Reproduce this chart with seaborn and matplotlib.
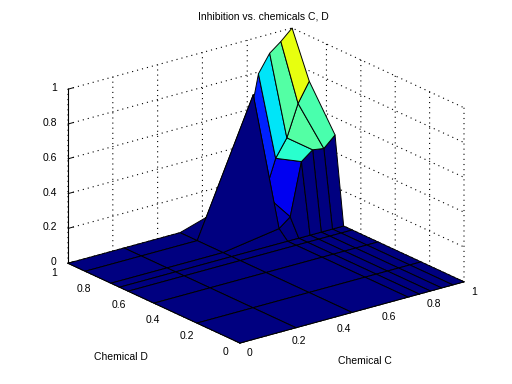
import numpy as np
import matplotlib
matplotlib.use("Agg")
import matplotlib.pyplot as plt
from matplotlib.transforms import Affine2D
import seaborn as sns
from mpl_toolkits.mplot3d import proj3d

chem_c = [0, 0.25, 0.5, 0.75, 0.8, 0.85, 0.9, 0.95, 1.0]
chem_d = [0, 0.25, 0.5, 0.65, 0.7, 0.75, 0.9, 1.0]
row_d000 = [0, 0, 0, 0, 0, 0, 0, 0, 0]
row_d025 = [0, 0, 0, 0, 0, 0, 0, 0, 0]
row_d050 = [0, 0, 0, 0, 0, 0, 0, 0, 0]
row_d065 = [0, 0, 0, 0, 0, 0, 0, 0, 0]
row_d070 = [0, 0, 0, 0, 0, 0, 0, 0, 0]
row_d075 = [0, 0, 0, 0.05, 0.10, 0.40, 0.45, 0.44, 0.50]
row_d090 = [0, 0, 0, 0.75, 0.16, 0.35, 0.45, 0.63, 0.74]
row_d100 = [0, 0, 0, 0.10, 0.47, 0.79, 0.89, 0.94, 1.00]
ticks = [0, 0.2, 0.4, 0.6, 0.8, 1]
tick_labels = ["0", "0.2", "0.4", "0.6", "0.8", "1"]
title = "Inhibition vs. chemicals C, D"
xlabel = "Chemical C"
ylabel = "Chemical D"
zlabel = "Inhibition"
BLACK = "#000000"

sns.set_theme(style="ticks")
plt.rcParams["font.family"] = ["Liberation Sans", "DejaVu Sans"]

Z = np.array([row_d000, row_d025, row_d050, row_d065, row_d070, row_d075, row_d090, row_d100], dtype=float)
X, Y = np.meshgrid(chem_c, chem_d)
cmap = plt.get_cmap("jet")
colors = cmap(Z)

W_PX, H_PX = 512, 384
fig = plt.figure(figsize=(W_PX / 100, H_PX / 100), dpi=100, facecolor="white")
ax = fig.add_axes([0.1, 0.1, 0.8, 0.8], projection="3d", proj_type="ortho")
ax.apply_aspect = lambda position=None: None
ax.set_box_aspect((1, 1, 1))
ax.view_init(elev=30, azim=-127.5)
ax.set_xlim(0, 1, view_margin=0)
ax.set_ylim(0, 1, view_margin=0)
ax.set_zlim(0, 1, view_margin=0)

ax.plot_surface(X, Y, Z, facecolors=colors, rstride=1, cstride=1, shade=False,
                edgecolor=BLACK, linewidth=0.7, antialiased=True)

# place the axes so the projected cube lands where the reference's does
M = ax.get_proj()
def uv(p):
    u, v, _ = proj3d.proj_transform(p[0], p[1], p[2], M)
    return float(u), float(v)
u_left, _ = uv((0, 1, 0))
u_right, _ = uv((1, 0, 1))
_, v_bot = uv((0, 0, 0))
_, v_top = uv((1, 1, 1))
xmin, xmax = ax.viewLim.x0, ax.viewLim.x1
ymin, ymax = ax.viewLim.y0, ax.viewLim.y1
sx = (464 - 68) / (u_right - u_left)
sy = (343 - 28) / (v_top - v_bot)
L = 68 - sx * (u_left - xmin)
W = sx * (xmax - xmin)
B = (H_PX - 343) - sy * (v_bot - ymin)
H = sy * (ymax - ymin)
ax.set_position([L / W_PX, B / H_PX, W / W_PX, H / H_PX])
ax.patch.set_alpha(0)

for axis in (ax.xaxis, ax.yaxis, ax.zaxis):
    axis.set_pane_color((1, 1, 1, 0))
    axis.pane.set_edgecolor("none")
    axis.line.set_color(BLACK)
    axis.line.set_linewidth(0.8)
    axis._axinfo["grid"].update(color=BLACK, linewidth=0.8, linestyle=(0, (1, 3.6)))
    axis._axinfo["tick"].update(inward_factor=0.0, outward_factor=0.3, linewidth={True: 0.7, False: 0.7}, color=BLACK)
    axis.set_rotate_label(False)

ax.set_xticks(ticks); ax.set_xticklabels(tick_labels)
ax.set_yticks(ticks); ax.set_yticklabels(tick_labels)
ax.set_zticks(ticks); ax.set_zticklabels(tick_labels)
ax.tick_params(labelsize=7.5, colors=BLACK, pad=0)
ax.set_xlabel(xlabel, fontsize=7.5, color=BLACK, labelpad=8)
ax.set_ylabel(ylabel, fontsize=7.5, color=BLACK, labelpad=8)
ax.set_zlabel(zlabel, fontsize=7.5, color=BLACK, rotation=90, labelpad=8)
ax.set_title(title, fontsize=7.5, color=BLACK, x=(263 - L) / W, pad=0)
ax.title.set_y((H_PX - 22 - B) / H)
ax.grid(True)

def nudge_tick_labels(axis, ha, dx, dy):
    shift = ax.transData + Affine2D().translate(dx, dy)
    original = axis.get_major_ticks
    def patched(numticks=None):
        major = original(numticks)
        for t in major:
            t.label1.set_transform(shift)
            t.label1.set_horizontalalignment(ha)
        return major
    axis.get_major_ticks = patched

def nudge_label(axis, dx, dy):
    shift = ax.transData + Affine2D().translate(dx, dy)
    label = axis.label
    original = label.draw
    def draw(renderer):
        label._transform = shift
        original(renderer)
    label.draw = draw

nudge_tick_labels(ax.xaxis, "left", -2, 8)
nudge_tick_labels(ax.yaxis, "right", 0.5, 8)
nudge_tick_labels(ax.zaxis, "right", 9.5, 5)
nudge_label(ax.xaxis, -20, 0)
nudge_label(ax.yaxis, 10, -9)

fig.savefig("out.png", dpi=100, facecolor="white")
